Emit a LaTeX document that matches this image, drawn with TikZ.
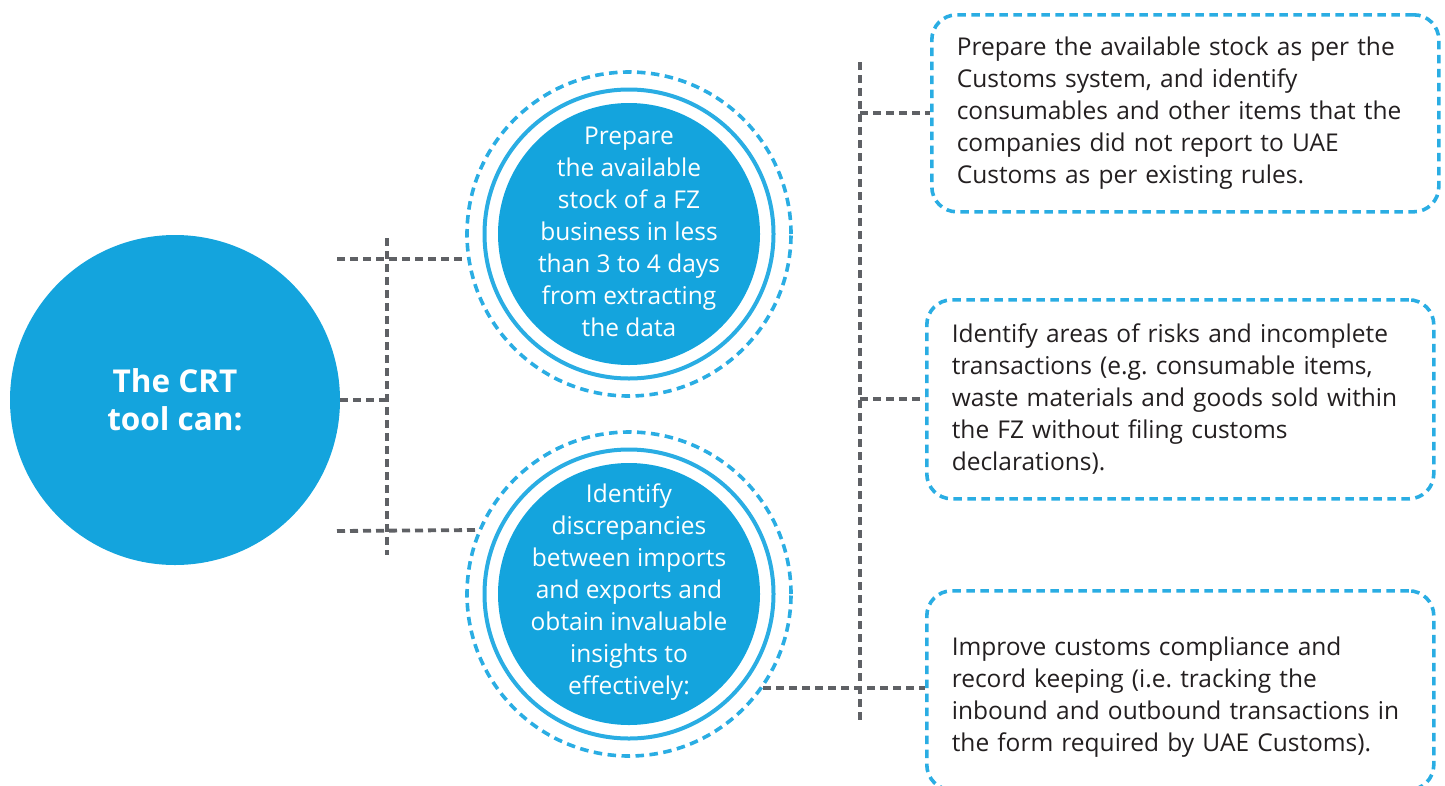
\documentclass[tikz,border=0pt]{standalone}
\usepackage{fontspec}
\setmainfont{Open Sans}
\frenchspacing
\definecolor{crtblue}{HTML}{14A4DD}
\definecolor{dashblue}{HTML}{2AADE3}
\definecolor{linegray}{HTML}{5F6165}
\definecolor{textdark}{HTML}{231F20}
\begin{document}
\begin{tikzpicture}[x=1pt,y=-1pt,
  bigcirc/.style={circle, fill=crtblue, minimum size=330pt, inner sep=0pt},
  bigtext/.style={text=white, font=\bfseries\fontsize{31.5}{38}\selectfont, align=center, inner sep=0pt},
  fillcirc/.style={circle, fill=crtblue, minimum size=262pt, inner sep=0pt},
  ringcirc/.style={circle, draw=dashblue, line width=4pt, minimum size=289pt, inner sep=0pt},
  dashcirc/.style={circle, draw=dashblue, line width=3.6pt, dash pattern=on 8.5pt off 5.5pt, minimum size=324pt, inner sep=0pt},
  circtext/.style={text=white, font=\fontsize{24.5}{32}\selectfont, align=center, inner sep=0pt},
  textbox/.style={draw=dashblue, line width=3.6pt, dash pattern=on 8.5pt off 5.5pt, rounded corners=25pt,
     text width=457pt, inner xsep=25pt, inner ysep=0pt, align=left, text=textdark,
     font=\fontsize{24.5}{32}\selectfont, anchor=north west},
  conn/.style={draw=linegray, line width=3.8pt, dash pattern=on 8pt off 5pt}
]
\useasboundingbox (0,0) rectangle (1445,785);
\clip (0,0) rectangle (1445,785);

% coordinates for connector ends
\coordinate (lv1) at (387,238);
\coordinate (lv2) at (387,555);
\coordinate (l1) at (337,259);
\coordinate (l3) at (337,531);
\coordinate (rv1) at (860,62);
\coordinate (rv2) at (860,722);

% main circle
\node[bigcirc] (big) at (175,400) {};
\node[bigtext] (bigt) at (175,400) {The CRT\\tool can:};

% circle 1
\node[dashcirc] (c1o) at (629,234) {};
\node[ringcirc] (c1r) at (629,234) {};
\node[fillcirc] (c1) at (629,234) {};
\node[circtext] (c1t) at (629,232) {Prepare\\the available\\stock of a FZ\\business in less\\than 3 to 4 days\\from extracting\\the data};

% circle 2
\node[dashcirc] (c2o) at (629,594) {};
\node[ringcirc] (c2r) at (629,594) {};
\node[fillcirc] (c2) at (629,594) {};
\node[circtext] (c2t) at (629,592) {Identify\\discrepancies\\between imports\\and exports and\\obtain invaluable\\insights to\\effectively:};

% boxes
\node[textbox, minimum height=197pt] (b1) at (930,13) {Prepare the available stock as per the\\Customs system, and identify\\consumables and other items that the\\companies did not report to UAE\\Customs as per existing rules.};
\node[textbox, minimum height=199pt] (b2) at (925,298) {Identify areas of risks and incomplete\\transactions (e.g. consumable items,\\waste materials and goods sold within\\the FZ without filing customs\\declarations).};
\node[textbox, minimum height=199pt] (b3) at (925,589) {\rule{0pt}{33pt}Improve customs compliance and\\record keeping (i.e. tracking the\\inbound and outbound transactions in\\the form required by UAE Customs).};

% left connectors
\draw[conn] (lv1) -- (lv2);
\draw[conn] (l1) -- (l1 -| c1o.west);
\draw[conn] (big.east) -- (big.east -| lv1);
\draw[conn] (l3) -- (c2o.157);

% right connectors
\draw[conn] (rv1) -- (rv2);
\draw[conn] (b1.west -| rv1) -- (b1.west);
\draw[conn] (b2.west -| rv1) -- (b2.west);
\draw[conn] (c2o.-35.5) -- (c2o.-35.5 -| b3.west);
\end{tikzpicture}
\end{document}
